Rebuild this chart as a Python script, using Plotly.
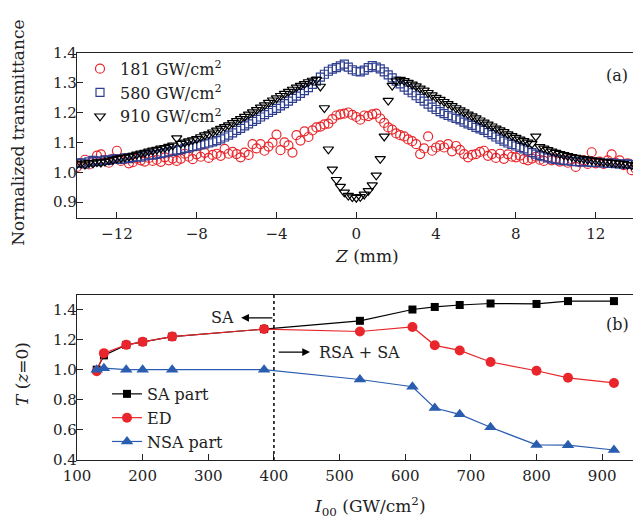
import plotly.graph_objects as go

# ---------------- Panel (a): Z-scan data ----------------
z_mm = [
    -14.0, -13.8, -13.6, -13.4, -13.2, -13.0, -12.8, -12.6, -12.4, -12.2,
    -12.0, -11.8, -11.6, -11.4, -11.2, -11.0, -10.8, -10.6, -10.4, -10.2,
    -10.0, -9.8, -9.6, -9.4, -9.2, -9.0, -8.8, -8.6, -8.4, -8.2,
    -8.0, -7.8, -7.6, -7.4, -7.2, -7.0, -6.8, -6.6, -6.4, -6.2,
    -6.0, -5.8, -5.6, -5.4, -5.2, -5.0, -4.8, -4.6, -4.4, -4.2,
    -4.0, -3.8, -3.6, -3.4, -3.2, -3.0, -2.8, -2.6, -2.4, -2.2,
    -2.0, -1.8, -1.6, -1.4, -1.2, -1.0, -0.8, -0.6, -0.4, -0.2,
    0.0, 0.2, 0.4, 0.6, 0.8, 1.0, 1.2, 1.4, 1.6, 1.8,
    2.0, 2.2, 2.4, 2.6, 2.8, 3.0, 3.2, 3.4, 3.6, 3.8,
    4.0, 4.2, 4.4, 4.6, 4.8, 5.0, 5.2, 5.4, 5.6, 5.8,
    6.0, 6.2, 6.4, 6.6, 6.8, 7.0, 7.2, 7.4, 7.6, 7.8,
    8.0, 8.2, 8.4, 8.6, 8.8, 9.0, 9.2, 9.4, 9.6, 9.8,
    10.0, 10.2, 10.4, 10.6, 10.8, 11.0, 11.2, 11.4, 11.6, 11.8,
    12.0, 12.2, 12.4, 12.6, 12.8, 13.0, 13.2, 13.4, 13.6, 13.8,
    14.0,
]

t_181 = [
    1.018, 1.030, 1.042, 1.026, 1.035, 1.056, 1.060, 1.040, 1.032, 1.045,
    1.072, 1.038, 1.044, 1.030, 1.034, 1.046, 1.040, 1.036, 1.048, 1.038,
    1.042, 1.035, 1.050, 1.040, 1.046, 1.038, 1.045, 1.062, 1.052, 1.044,
    1.060, 1.052, 1.065, 1.048, 1.058, 1.062, 1.055, 1.078, 1.062, 1.068,
    1.061, 1.050, 1.066, 1.058, 1.094, 1.080, 1.094, 1.072, 1.086, 1.099,
    1.126, 1.074, 1.100, 1.090, 1.066, 1.124, 1.106, 1.137, 1.118, 1.140,
    1.150, 1.153, 1.160, 1.163, 1.178, 1.190, 1.194, 1.196, 1.200, 1.192,
    1.185, 1.176, 1.190, 1.188, 1.194, 1.196, 1.180, 1.165, 1.150, 1.143,
    1.130, 1.124, 1.120, 1.110, 1.104, 1.094, 1.061, 1.080, 1.120, 1.072,
    1.083, 1.090, 1.083, 1.094, 1.070, 1.088, 1.075, 1.061, 1.050, 1.058,
    1.061, 1.068, 1.072, 1.055, 1.061, 1.048, 1.062, 1.045, 1.060, 1.052,
    1.050, 1.056, 1.044, 1.040, 1.046, 1.052, 1.042, 1.038, 1.050, 1.040,
    1.046, 1.036, 1.040, 1.032, 1.044, 1.018, 1.034, 1.040, 1.028, 1.067,
    1.030, 1.036, 1.028, 1.040, 1.060, 1.032, 1.040, 1.024, 1.030, 1.007,
    1.012,
]

t_580 = [
    1.030, 1.032, 1.028, 1.035, 1.040, 1.036, 1.038, 1.042, 1.040, 1.044,
    1.045, 1.043, 1.048, 1.046, 1.050, 1.052, 1.051, 1.055, 1.058, 1.057,
    1.060, 1.063, 1.065, 1.068, 1.070, 1.074, 1.076, 1.080, 1.082, 1.086,
    1.088, 1.092, 1.095, 1.098, 1.102, 1.106, 1.112, 1.118, 1.124, 1.132,
    1.140, 1.147, 1.155, 1.162, 1.170, 1.177, 1.185, 1.193, 1.200, 1.207,
    1.214, 1.222, 1.230, 1.238, 1.247, 1.255, 1.264, 1.273, 1.283, 1.294,
    1.305, 1.318, 1.328, 1.338, 1.345, 1.350, 1.356, 1.362, 1.352, 1.343,
    1.338, 1.336, 1.342, 1.350, 1.357, 1.352, 1.346, 1.336, 1.326, 1.316,
    1.305, 1.296, 1.285, 1.275, 1.266, 1.256, 1.247, 1.238, 1.228, 1.218,
    1.210, 1.203, 1.196, 1.190, 1.185, 1.180, 1.175, 1.168, 1.162, 1.157,
    1.150, 1.145, 1.140, 1.133, 1.126, 1.118, 1.111, 1.104, 1.098, 1.093,
    1.088, 1.083, 1.078, 1.072, 1.066, 1.061, 1.056, 1.052, 1.048, 1.045,
    1.043, 1.041, 1.040, 1.038, 1.037, 1.036, 1.035, 1.036, 1.034, 1.033,
    1.033, 1.032, 1.031, 1.030, 1.031, 1.029, 1.028, 1.027, 1.028, 1.026,
    1.025,
]

t_910 = [
    1.028, 1.030, 1.026, 1.032, 1.030, 1.034, 1.033, 1.036, 1.040, 1.042,
    1.046, 1.048, 1.050, 1.053, 1.056, 1.060, 1.063, 1.066, 1.070, 1.073,
    1.076, 1.080, 1.082, 1.086, 1.090, 1.114, 1.096, 1.100, 1.104, 1.108,
    1.112, 1.118, 1.124, 1.128, 1.134, 1.140, 1.146, 1.152, 1.158, 1.165,
    1.172, 1.179, 1.186, 1.194, 1.201, 1.209, 1.217, 1.225, 1.233, 1.241,
    1.248, 1.256, 1.263, 1.270, 1.277, 1.284, 1.290, 1.296, 1.302, 1.307,
    1.310, 1.287, 1.215, 1.077, 1.010, 0.975, 0.952, 0.933, 0.922, 0.917,
    0.915, 0.918, 0.926, 0.938, 0.957, 0.990, 1.045, 1.120, 1.240, 1.290,
    1.305, 1.310, 1.306, 1.300, 1.294, 1.288, 1.281, 1.274, 1.266, 1.258,
    1.250, 1.243, 1.236, 1.229, 1.222, 1.215, 1.208, 1.201, 1.194, 1.188,
    1.181, 1.174, 1.167, 1.160, 1.154, 1.147, 1.141, 1.135, 1.128, 1.122,
    1.116, 1.110, 1.105, 1.100, 1.095, 1.120, 1.085, 1.080, 1.075, 1.070,
    1.066, 1.062, 1.058, 1.055, 1.052, 1.049, 1.047, 1.045, 1.043, 1.041,
    1.039, 1.037, 1.035, 1.034, 1.032, 1.031, 1.030, 1.028, 1.026, 1.024,
    1.022,
]

# ---------------- Panel (b): T(z=0) vs I00 ----------------
i00 = [130, 141, 175, 200, 245, 385, 531, 611, 645, 683, 730, 800, 848, 918]
sa_part = [1.000, 1.095, 1.165, 1.185, 1.220, 1.270, 1.325, 1.400, 1.417, 1.430, 1.440, 1.437, 1.456, 1.456]
ed = [0.990, 1.110, 1.165, 1.185, 1.220, 1.270, 1.254, 1.284, 1.162, 1.128, 1.051, 0.993, 0.946, 0.912]
nsa_part = [1.000, 1.010, 1.000, 1.000, 1.000, 1.000, 0.935, 0.887, 0.745, 0.703, 0.617, 0.500, 0.498, 0.466]

top_xticks = [-12, -8, -4, 0, 4, 8, 12]
top_yticks = [0.9, 1.0, 1.1, 1.2, 1.3, 1.4]
bot_xticks = [100, 200, 300, 400, 500, 600, 700, 800, 900]
bot_yticks = [0.4, 0.6, 0.8, 1.0, 1.2, 1.4]

FONT = "DejaVu Serif"
RED = "#e8262b"
NAVY = "#2f3f90"
BLUE = "#2a5db0"

# the page body adds an 8 px margin, so the figure is 16 px smaller than the window
OFF = 8
W, H = 641 - 2 * OFF, 531 - 2 * OFF
L = 77 - OFF


def py(ref_px):
    """paper y for a pixel row in the 641x531 window"""
    return 1 - (ref_px - OFF) / H


def px_x(ref_px):
    """paper x for a pixel column in the 641x531 window"""
    return (ref_px - OFF - L) / (W - L)


fig = go.Figure()

# Panel (a)
fig.add_trace(go.Scatter(x=z_mm, y=t_181, mode="markers", name="181 GW/cm<sup>2</sup>",
                         marker=dict(symbol="circle-open", size=9, color=RED, line=dict(width=1.2)),
                         xaxis="x", yaxis="y", legend="legend"))
fig.add_trace(go.Scatter(x=z_mm, y=t_580, mode="markers", name="580 GW/cm<sup>2</sup>",
                         marker=dict(symbol="square-open", size=8, color=NAVY, line=dict(width=1.2)),
                         xaxis="x", yaxis="y", legend="legend"))
fig.add_trace(go.Scatter(x=z_mm, y=t_910, mode="markers", name="910 GW/cm<sup>2</sup>",
                         marker=dict(symbol="triangle-down-open", size=9, color="black", line=dict(width=1.2)),
                         xaxis="x", yaxis="y", legend="legend"))

# Panel (b)
fig.add_trace(go.Scatter(x=i00, y=sa_part, mode="lines+markers", name="SA part",
                         line=dict(color="black", width=1.2),
                         marker=dict(symbol="square", size=8, color="black"),
                         xaxis="x2", yaxis="y2", legend="legend2"))
fig.add_trace(go.Scatter(x=i00, y=ed, mode="lines+markers", name="ED",
                         line=dict(color=RED, width=1.2),
                         marker=dict(symbol="circle", size=10, color=RED),
                         xaxis="x2", yaxis="y2", legend="legend2"))
fig.add_trace(go.Scatter(x=i00, y=nsa_part, mode="lines+markers", name="NSA part",
                         line=dict(color=BLUE, width=1.2),
                         marker=dict(symbol="triangle-up", size=11, color=BLUE),
                         xaxis="x2", yaxis="y2", legend="legend2"))

axis_common = dict(showgrid=False, zeroline=False, showline=True, linecolor="#222222", linewidth=1.4,
                   ticks="inside", ticklen=6, tickwidth=1.2, tickcolor="#222222",
                   tickfont=dict(family=FONT, size=15, color="#222222"))

fig.update_layout(
    width=W, height=H,
    margin=dict(l=L, r=0, t=0, b=0),
    paper_bgcolor="white", plot_bgcolor="white",
    font=dict(family=FONT, size=16, color="#222222"),
    xaxis=dict(domain=[0, 1], range=[-14, 13.87], tickvals=top_xticks, mirror=True,
               anchor="y", ticklabelstandoff=2, **axis_common),
    yaxis=dict(domain=[py(216), py(45)], range=[0.848, 1.4], tickvals=top_yticks,
               tickformat=".1f", anchor="x", ticklabelstandoff=-4, **axis_common),
    xaxis2=dict(domain=[0, 1], range=[100, 947], tickvals=bot_xticks, mirror=True,
                anchor="y2", ticklabelstandoff=2, **axis_common),
    yaxis2=dict(domain=[py(467), py(296)], range=[0.4, 1.497], tickvals=bot_yticks,
                tickformat=".1f", anchor="x2", ticklabelstandoff=-4, **axis_common),
    showlegend=True,
    legend=dict(x=px_x(80), y=py(44), xanchor="left", yanchor="top", bgcolor="rgba(0,0,0,0)",
                font=dict(family=FONT, size=16, color="#222222"), itemwidth=30, tracegroupgap=0),
    legend2=dict(x=px_x(107), y=py(381), xanchor="left", yanchor="top", bgcolor="rgba(0,0,0,0)",
                 font=dict(family=FONT, size=16, color="#222222"), itemwidth=30, tracegroupgap=0),
)

# dotted divider at 400 GW/cm2
fig.add_shape(type="line", xref="x2", yref="y2", x0=400, x1=400, y0=0.4, y1=1.497,
              line=dict(color="black", width=1.5, dash="dot"))

annos = [
    dict(text="Normalized transmittance", x=px_x(18), y=py(128), xref="paper", yref="paper",
         textangle=-90, font=dict(size=17)),
    dict(text="<i>Z</i> (mm)", x=px_x(367), y=py(256), xref="paper", yref="paper", font=dict(size=17)),
    dict(text="<i>T</i> (<i>z</i>=0)", x=px_x(22), y=py(378), xref="paper", yref="paper",
         textangle=-90, font=dict(size=17)),
    dict(text="<i>I</i><sub>00</sub> (GW/cm<sup>2</sup>)", x=px_x(370), y=py(515), xref="paper",
         yref="paper", font=dict(size=17)),
    dict(text="(a)", x=px_x(617), y=py(69), xref="paper", yref="paper", font=dict(size=16)),
    dict(text="(b)", x=px_x(617), y=py(327), xref="paper", yref="paper", font=dict(size=16)),
    dict(text="SA", x=322, y=1.345, xref="x2", yref="y2", font=dict(size=16)),
    dict(text="RSA + SA", x=530, y=1.117, xref="x2", yref="y2", font=dict(size=16)),
]
for a in annos:
    a.setdefault("showarrow", False)
    a.setdefault("xanchor", "center")
    a.setdefault("yanchor", "middle")
    fig.add_annotation(**a)

# arrows
fig.add_annotation(x=350, y=1.345, ax=400, ay=1.345, xref="x2", yref="y2", axref="x2", ayref="y2",
                   text="", showarrow=True, arrowhead=2, arrowsize=1.2, arrowwidth=1.3, arrowcolor="black")
fig.add_annotation(x=455, y=1.117, ax=405, ay=1.117, xref="x2", yref="y2", axref="x2", ayref="y2",
                   text="", showarrow=True, arrowhead=2, arrowsize=1.2, arrowwidth=1.3, arrowcolor="black")

fig.write_html("out.html")
